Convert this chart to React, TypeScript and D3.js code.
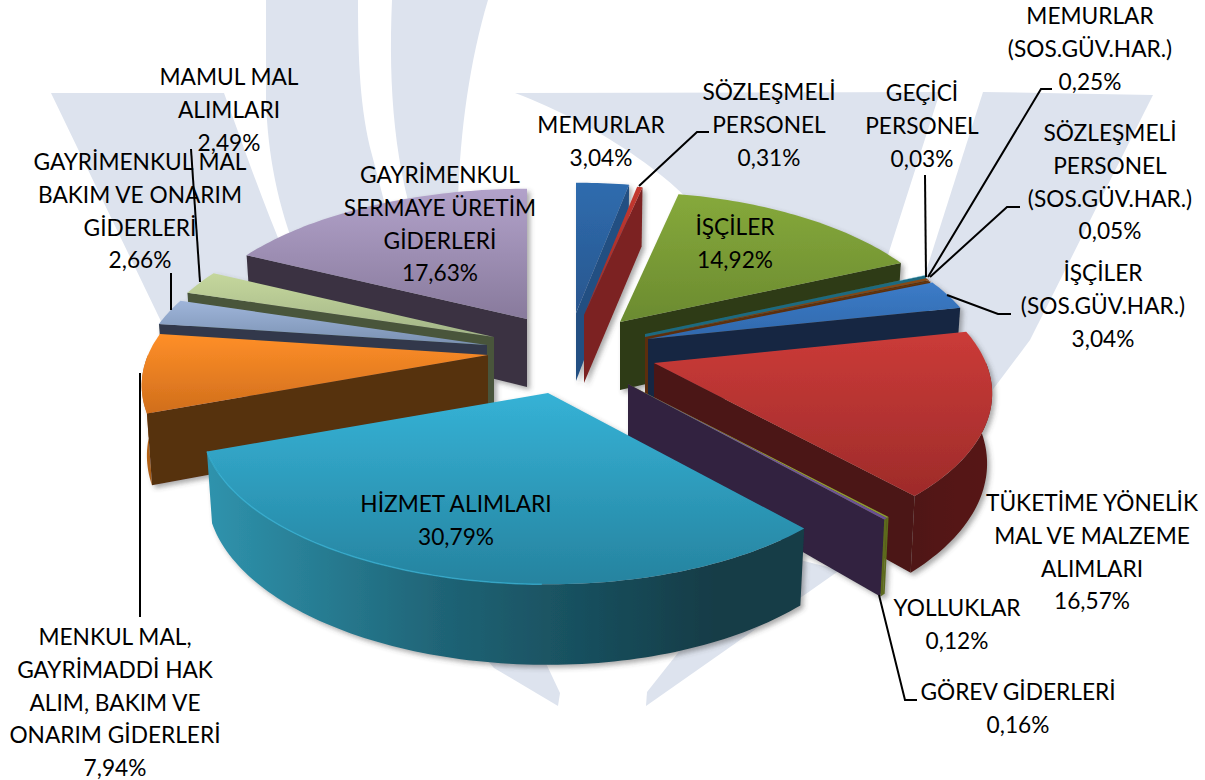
import React from 'react';
import * as d3 from 'd3';

const W = 1205, H = 780;

// ---- data ----
const sliceValues = [3.04, 0.31, 14.92, 0.03, 0.25, 0.05, 3.04, 16.57, 0.12, 0.16, 30.79, 7.94, 2.66, 2.49, 17.63];
const sliceLabels = [
  ['MEMURLAR'],
  ['SÖZLEŞMELİ', 'PERSONEL'],
  ['İŞÇİLER'],
  ['GEÇİCİ', 'PERSONEL'],
  ['MEMURLAR', '(SOS.GÜV.HAR.)'],
  ['SÖZLEŞMELİ', 'PERSONEL', '(SOS.GÜV.HAR.)'],
  ['İŞÇİLER', '(SOS.GÜV.HAR.)'],
  ['TÜKETİME YÖNELİK', 'MAL VE MALZEME', 'ALIMLARI'],
  ['YOLLUKLAR'],
  ['GÖREV GİDERLERİ'],
  ['HİZMET ALIMLARI'],
  ['MENKUL MAL,', 'GAYRİMADDİ HAK', 'ALIM, BAKIM VE', 'ONARIM GİDERLERİ'],
  ['GAYRİMENKUL MAL', 'BAKIM VE ONARIM', 'GİDERLERİ'],
  ['MAMUL MAL', 'ALIMLARI'],
  ['GAYRİMENKUL', 'SERMAYE ÜRETİM', 'GİDERLERİ'],
];

// ---- layout: label anchors, explosion of each slice ----
const labelCx = [601, 769, 735, 922, 1090, 1110, 1103, 1092, 957, 1018, 456, 115, 140, 229, 440];
const labelCy = [125, 92, 227, 93, 16, 133, 273, 503, 608, 692, 504, 637, 162, 77, 175];
const explodeX = [24, 32, 68, 93, 93, 94, 96, 102, 76, 76, -4, -64, -65, -58, -25];
const explodeY = [-37, -35, -28, -16, -13, -12, -11, 13, 34, 34, 43, 5, -5, -13, -31];
const leaders: [number, number][][] = [
  [],
  [[709, 132], [697, 132], [639, 186]],
  [],
  [[925, 175], [926, 277]],
  [[1052, 89], [1041, 89], [928, 277]],
  [[1020, 207], [1007, 207], [930, 277]],
  [[1011, 314], [998, 314], [947, 295]],
  [],
  [],
  [[917, 700], [905, 700], [879, 595]],
  [],
  [[140, 617], [140, 373]],
  [[171, 273], [171, 310]],
  [[191, 149], [200, 282]],
  [],
];

// ---- colours ----
const topLight = ['#2f6cae', '#c4382f', '#86a93b', '#2f9fc0', '#8a4a14', '#7a4a1a', '#3c7cc8', '#cb3b38', '#a0ae34', '#7d60aa', '#35b2d6', '#ff8f28', '#9fb5da', '#c5d79c', '#b2a2ca'];
const topDark = ['#28568e', '#9c2c29', '#6b8b30', '#2a8aa6', '#6e3a10', '#6e3a12', '#3068ac', '#9e2b2a', '#8a9a30', '#6a4f96', '#26839f', '#d06e1c', '#7a91b2', '#a3b588', '#887a9c'];
const wallColor = ['#214f82', '#7c2220', '#2f3a13', '#1f6a80', '#5c2f0d', '#5c2f0d', '#132843', '#4b1512', '#5d6a1f', '#30213f', '#123c47', '#57300e', '#30394b', '#48543a', '#3a3342'];
const arcLeft = ['#214f82', '#7c2220', '#2f3a13', '#1f6a80', '#5c2f0d', '#5c2f0d', '#132843', '#4f1613', '#5d6a1f', '#5d6a1f', '#2f93ad', '#c9701d', '#30394b', '#48543a', '#3a3342'];
const arcRight = ['#214f82', '#7c2220', '#2f3a13', '#1f6a80', '#5c2f0d', '#5c2f0d', '#132843', '#561814', '#5d6a1f', '#5d6a1f', '#123c47', '#a85c17', '#30394b', '#48543a', '#3a3342'];

// ---- watermark ----
const washColor = '#dde3ee';
const washShapes = [
  'M51,93 L224,93 C245,150 270,225 297,280 L300,380 L170,340 Z',
  'M266,0 L358,0 C358,60 360,110 372,155 C384,200 392,235 405,270 L320,300 C285,240 268,170 266,100 Z',
  'M392,0 L488,0 C470,60 460,130 458,200 L420,240 C395,170 388,90 392,0 Z',
  'M515,93 L940,92 L880,280 L720,240 C690,185 600,125 515,93 Z',
  'M983,92 L1153,95 L1030,340 L985,400 L920,290 Z',
  'M494,668 L558,706 L560,693 L535,640 L470,640 Z',
  'M646,706 L647,692 L700,625 L800,560 L840,570 Z',
];

// ---- projection ----
const centerX = 552, centerY = 350;
const radiusLeft = 340, radiusRight = 332, radiusY = 155, persp = 0.19, depth = 68;

const arcXY = (theta: number) => {
  const u = Math.sin(theta), v = -Math.cos(theta), w = 1 - persp * v;
  return { dx: ((u > 0 ? radiusRight : radiusLeft) * u) / w, dy: (radiusY * v) / w, w };
};
const wallH = (w: number) => depth * Math.pow(1 / w, 0.8);

const pieData = d3.pie<number>().sort(null).value((d) => d).startAngle(0).endAngle(2 * Math.PI)(sliceValues);
const linePath = d3.line<[number, number]>();

function geometry(i: number) {
  const { startAngle: a, endAngle: b } = pieData[i];
  const ax = centerX + explodeX[i], ay = centerY + explodeY[i];
  const steps = Math.max(2, Math.ceil((b - a) / 0.02));
  const ts = d3.range(steps + 1).map((k) => a + ((b - a) * k) / steps);
  const topPt = (t: number): [number, number] => {
    const p = arcXY(t);
    return [ax + p.dx, ay + p.dy];
  };
  const botPt = (t: number): [number, number] => {
    const p = arcXY(t);
    return [ax + p.dx * 0.985, ay + p.dy + wallH(p.w)];
  };
  const apexTop: [number, number] = [ax, ay];
  const apexBot: [number, number] = [ax, ay + depth];
  const top = linePath([apexTop, ...ts.map(topPt)]) + 'Z';
  const rim = linePath(ts.filter((t) => t >= Math.PI && t <= (3 * Math.PI) / 2).map(topPt));
  const lo = Math.max(a, Math.PI / 2), hi = Math.min(b, (3 * Math.PI) / 2);
  let arcWall: string | null = null;
  if (hi > lo) {
    const n = Math.max(2, Math.ceil((hi - lo) / 0.02));
    const tw = d3.range(n + 1).map((k) => lo + ((hi - lo) * k) / n);
    arcWall = linePath([...tw.map(topPt), ...tw.slice().reverse().map(botPt)]) + 'Z';
  }
  const edge = b <= Math.PI ? b : a >= Math.PI ? a : null;
  const radial = edge === null ? null : linePath([apexTop, topPt(edge), botPt(edge), apexBot]) + 'Z';
  return { top, rim, arcWall, radial };
}

const paintOrder = d3.range(sliceValues.length).sort((p, q) => {
  const key = (i: number) => Math.abs((pieData[i].startAngle + pieData[i].endAngle) / 2 - Math.PI);
  return key(q) - key(p);
});

const fmt = d3.format('.2f');
const lineStep = 32.7;
const fontSize = 22.7;
const rimSlice = 10;

export default function App() {
  return (
    <svg width={W} height={H} viewBox={`0 0 ${W} ${H}`} style={{ position: 'absolute', left: 0, top: 0, background: '#fff' }}>
      <defs>
        <filter id="pieShadow" x="-5%" y="-5%" width="110%" height="110%">
          <feDropShadow dx="3" dy="3" stdDeviation="2.5" floodColor="#444" floodOpacity="0.45" />
        </filter>
        {sliceValues.map((_, i) => (
          <React.Fragment key={i}>
            <linearGradient id={`top${i}`} x1="0" y1="0" x2="0" y2="1">
              <stop offset="0" stopColor={topLight[i]} />
              <stop offset="1" stopColor={topDark[i]} />
            </linearGradient>
            <linearGradient id={`arc${i}`} x1="0" y1="0" x2="1" y2="0">
              <stop offset="0" stopColor={arcLeft[i]} />
              <stop offset="0.4" stopColor={d3.interpolateRgb(arcLeft[i], arcRight[i])(0.55)} />
              <stop offset="0.85" stopColor={arcRight[i]} />
            </linearGradient>
          </React.Fragment>
        ))}
      </defs>
      <g fill={washColor}>
        {washShapes.map((d, i) => (
          <path key={i} d={d} />
        ))}
      </g>
      <g filter="url(#pieShadow)">
        {paintOrder.map((i) => {
          const g = geometry(i);
          return (
            <g key={i}>
              {g.arcWall && <path d={g.arcWall} fill={`url(#arc${i})`} />}
              {g.radial && <path d={g.radial} fill={wallColor[i]} />}
              <path d={g.top} fill={`url(#top${i})`} />
              {i === rimSlice && g.rim && <path d={g.rim} fill="none" stroke={topLight[i]} strokeOpacity={0.7} strokeWidth={1.5} />}
            </g>
          );
        })}
      </g>
      <g fill="none" stroke="#000" strokeWidth={2}>
        {leaders.map((pts, i) => (pts.length ? <path key={i} d={linePath(pts) as string} /> : null))}
      </g>
      <g fontFamily="Lato, 'Open Sans', sans-serif" fontSize={fontSize} fill="#000" textAnchor="middle">
        {sliceLabels.map((lines, i) => {
          const all = [...lines, fmt(sliceValues[i]).replace('.', ',') + '%'];
          return (
            <text key={i}>
              {all.map((t, k) => (
                <tspan key={k} x={labelCx[i]} y={labelCy[i] + k * lineStep + fontSize * 0.36}>
                  {t}
                </tspan>
              ))}
            </text>
          );
        })}
      </g>
    </svg>
  );
}
